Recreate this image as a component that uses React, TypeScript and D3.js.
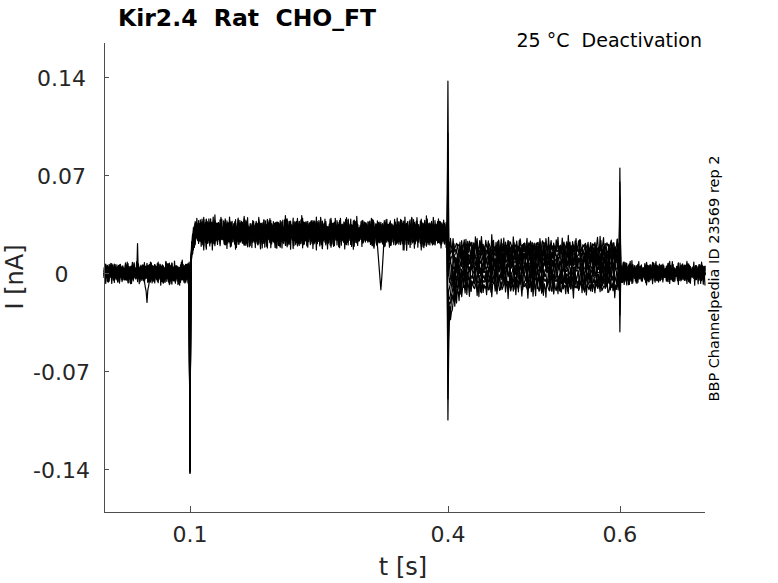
import React from "react";
import * as d3 from "d3";

// ---- Data ----
const TITLE = "Kir2.4  Rat  CHO_FT";
const SUBTITLE = "25 °C  Deactivation";
const SIDE_NOTE = "BBP Channelpedia ID 23569 rep 2";
const X_LABEL = "t [s]";
const Y_LABEL = "I [nA]";

const X_TICKS = [0.1, 0.4, 0.6];
const X_TICK_LABELS = ["0.1", "0.4", "0.6"];
const Y_TICKS = [-0.14, -0.07, 0, 0.07, 0.14];
const Y_TICK_LABELS = ["-0.14", "-0.07", "0", "0.07", "0.14"];
const X_DOMAIN = [0, 0.699];
const Y_DOMAIN = [-0.1707, 0.1643];

const DT = 0.001; // sampling interval (s)
const N_SAMPLES = 700;
const STEP_SAMPLES = [100, 400, 600]; // samples of the voltage steps

// per-sweep levels (nA)
const PRE_LEVELS = [0.0, 0.001, -0.001, 0.0, 0.001, -0.001, 0.0, 0.001, 0.0, -0.001];
const HOLD_LEVELS = [0.03, 0.029, 0.028, 0.029, 0.027, 0.03, 0.028, 0.029, 0.027, 0.029];
const TEST_LEVELS = [0.019, 0.016, 0.013, 0.01, 0.007, 0.004, 0.001, -0.003, -0.006, -0.01];
const POST_LEVELS = [0.0, -0.001, 0.001, 0.0, -0.001, 0.001, 0.0, -0.001, 0.001, 0.0];

// capacitive transients at the steps (nA)
const SPIKE_01 = [-0.143, -0.141, -0.139, -0.142, -0.14, -0.138, -0.141, -0.143, -0.14, -0.139];
const SPIKE_04 = [0.137, 0.1, 0.07, 0.04, 0.01, -0.02, -0.045, -0.07, -0.09, -0.105];
const SPIKE_06 = [-0.042, -0.03, -0.015, 0.0, 0.015, 0.03, 0.045, 0.055, 0.065, 0.075];

// noise amplitude per segment (nA)
const PRE_NOISE = 0.0075;
const HOLD_NOISE = 0.0105;
const TEST_NOISE = 0.008;
const POST_NOISE = 0.0075;

// activation onset after 0.1 s (offset from hold level, nA)
const RISE_PROFILE = [-0.024, -0.013, -0.007, -0.004, -0.002, -0.001];
// tail current after 0.4 s (relative profile) and per-sweep amplitude
const TAIL_PROFILE = [1, 0.82, 0.67, 0.55, 0.45, 0.37, 0.3, 0.25, 0.2, 0.17, 0.14, 0.11, 0.09, 0.07, 0.06, 0.05, 0.04, 0.03, 0.02, 0.01];
const TAIL_AMP = [0, 0, -0.004, -0.008, -0.012, -0.016, -0.02, -0.024, -0.028, -0.032];

// hand-read noise patterns (arbitrary units, -9..9)
const NOISE_A = [
  3, -5, 7, -1, -8, 2, 6, -3, 0, 9, -4, -7, 5, 1, -2, 8, -6, 4, -9, 2,
  -1, 6, -3, 7, -5, 0, 3, -8, 9, -2, 4, -6, 1, 5, -7, 8, -4, 2, -1, -9,
  6, 3, -5, 0, 7, -2, -6, 9, -3, 4, 1, -8, 5, -4, 2, 8, -7, 0, 3, -1,
  -5, 6, -9, 4, 2, -3, 7, -6, 1, 5, -2, -8, 9, 0, -4, 3, 6, -7, 2, -1,
  8, -5, 4, -3, 0, 7, -9, 1, 5, -6, 3, -2, 9, -4, -1, 6, -8, 2, 4, -7,
  5,
];
const NOISE_B = [
  -4, 2, 7, -6, 1, -3, 8, -1, 5, -9, 3, 0, -5, 6, -2, 4, -7, 9, -3, 1,
  6, -8, 2, -4, 5, 0, -6, 7, -1, 3, -9, 4, -2, 8, -5, 1, 6, -3, -7, 2,
  9, -4, 0, 5, -8, 3, -1, 7, -6, 2, 4, -5, 8, -2, -3, 6, 1, -9, 5, -1,
  3, -7, 4, 0, -4, 7, -2, 6, -8, 1, 5, -3, 9, -6, 2, -1, 4, -5, 8, -2,
  -7, 3, 0, 6, -4, 1, -9, 5, 2,
];

// isolated artifacts: [sweep, time (s), value (nA)]
const ARTIFACTS: [number, number, number][] = [
  [2, 0.039, 0.021],
  [5, 0.047, -0.006],
  [5, 0.048, -0.01],
  [5, 0.049, -0.013],
  [5, 0.05, -0.021],
  [5, 0.051, -0.012],
  [5, 0.052, -0.009],
  [5, 0.053, -0.005],
  [3, 0.318, 0.02],
  [3, 0.319, 0.012],
  [3, 0.32, 0.004],
  [3, 0.321, -0.004],
  [3, 0.322, -0.012],
  [3, 0.323, -0.004],
  [3, 0.324, 0.006],
  [3, 0.325, 0.016],
];

function noiseAt(k: number, i: number) {
  const a = NOISE_A[(i + 37 * k) % NOISE_A.length];
  const b = NOISE_B[(i + 53 * k) % NOISE_B.length];
  return (0.65 * a + 0.45 * b) / 9;
}

function buildSweep(k: number): [number, number][] {
  const pts: [number, number][] = [];
  const [s1, s2, s3] = STEP_SAMPLES;
  for (let i = 0; i < N_SAMPLES; i++) {
    const n = noiseAt(k, i);
    let v: number;
    if (i < s1) v = PRE_LEVELS[k] + PRE_NOISE * n;
    else if (i === s1) v = SPIKE_01[k];
    else if (i < s2) v = HOLD_LEVELS[k] + HOLD_NOISE * n + (RISE_PROFILE[i - s1 - 1] ?? 0);
    else if (i === s2) v = SPIKE_04[k];
    else if (i < s3) v = TEST_LEVELS[k] + TEST_NOISE * n + TAIL_AMP[k] * (TAIL_PROFILE[i - s2 - 1] ?? 0);
    else if (i === s3) v = SPIKE_06[k];
    else v = POST_LEVELS[k] + POST_NOISE * n;
    pts.push([i * DT, v]);
  }
  for (const [sw, t, val] of ARTIFACTS) {
    if (sw === k) {
      const idx = Math.round(t / DT);
      pts[idx] = [idx * DT, val];
    }
  }
  return pts;
}

const SWEEPS = HOLD_LEVELS.map((_, k) => buildSweep(k));

// ---- Layout ----
const W = 778;
const H = 583;
const LEFT = 104;
const RIGHT = 705;
const TOP = 43;
const BOTTOM = 512;
const FONT = "'DejaVu Sans', sans-serif";

export default function App() {
  const x = d3.scaleLinear().domain(X_DOMAIN).range([LEFT, RIGHT]);
  const y = d3.scaleLinear().domain(Y_DOMAIN).range([BOTTOM, TOP]);
  const line = d3
    .line<[number, number]>()
    .x((d) => x(d[0]))
    .y((d) => y(d[1]));

  const axisColor = "#4d4d4d";
  const textColor = "#262626";

  return (
    <svg
      width={W}
      height={H}
      style={{ position: "absolute", left: 0, top: 0, background: "#fff" }}
      fontFamily={FONT}
    >
      <rect x={0} y={0} width={W} height={H} fill="#fff" />
      {/* traces */}
      <g fill="none" stroke="#000" strokeWidth={1.2} strokeLinejoin="round">
        {SWEEPS.map((s, k) => (
          <path key={k} d={line(s) || ""} />
        ))}
      </g>
      {/* axes */}
      <g stroke={axisColor} strokeWidth={1} shapeRendering="crispEdges">
        <line x1={LEFT + 0.5} x2={LEFT + 0.5} y1={TOP} y2={BOTTOM + 0.5} />
        <line x1={LEFT} x2={RIGHT} y1={BOTTOM + 0.5} y2={BOTTOM + 0.5} />
        {Y_TICKS.map((t, i) => (
          <line key={"yt" + i} x1={LEFT} x2={LEFT + 5} y1={Math.round(y(t)) + 0.5} y2={Math.round(y(t)) + 0.5} />
        ))}
        {X_TICKS.map((t, i) => (
          <line key={"xt" + i} x1={Math.round(x(t)) + 0.5} x2={Math.round(x(t)) + 0.5} y1={BOTTOM} y2={BOTTOM - 6} />
        ))}
      </g>
      <g fill={textColor} fontSize={22}>
        {Y_TICKS.map((t, i) => (
          <text key={"yl" + i} x={61.5} y={y(t) + 9} textAnchor="middle">
            {Y_TICK_LABELS[i]}
          </text>
        ))}
        {X_TICKS.map((t, i) => (
          <text key={"xl" + i} x={x(t)} y={542} textAnchor="middle">
            {X_TICK_LABELS[i]}
          </text>
        ))}
      </g>
      <text x={403} y={575} textAnchor="middle" fontSize={24} fill={textColor}>
        {X_LABEL}
      </text>
      <text
        transform="translate(23,277) rotate(-90)"
        textAnchor="middle"
        fontSize={24}
        fill={textColor}
      >
        {Y_LABEL}
      </text>
      <text x={118} y={26} fontSize={23.5} fontWeight="bold" fill="#000" style={{ whiteSpace: "pre" }}>
        {TITLE}
      </text>
      <text x={702} y={47} fontSize={19} textAnchor="end" fill="#000" style={{ whiteSpace: "pre" }}>
        {SUBTITLE}
      </text>
      <text
        transform="translate(719,278.5) rotate(-90)"
        textAnchor="middle"
        fontSize={14.5}
        fill="#000"
      >
        {SIDE_NOTE}
      </text>
    </svg>
  );
}
